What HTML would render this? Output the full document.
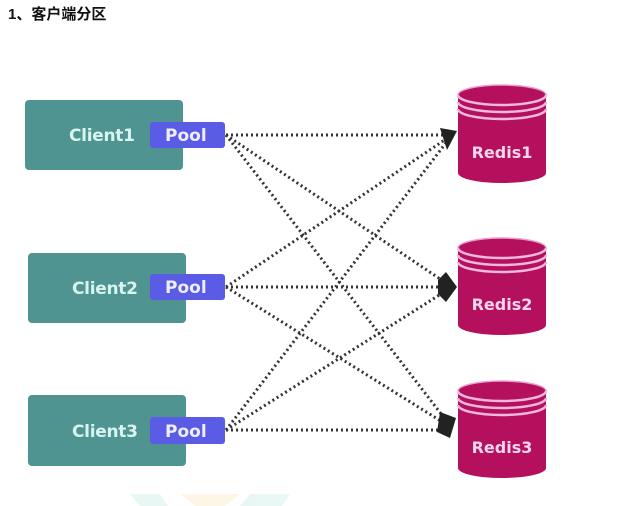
<!DOCTYPE html>
<html><head><meta charset="utf-8"><style>
body{margin:0;background:#fff;width:627px;height:506px;overflow:hidden;}
</style></head><body>
<svg width="627" height="506" xmlns="http://www.w3.org/2000/svg" style="position:absolute;left:0;top:0">
<text x="8" y="19" font-family="Liberation Sans, Noto Sans CJK SC, sans-serif" font-size="15" font-weight="bold" fill="#111">1、客户端分区</text>
<g stroke="#333" stroke-width="3" stroke-dasharray="2,3" fill="none">
<line x1="226" y1="135" x2="452" y2="135"/>
<line x1="226" y1="135" x2="452" y2="287"/>
<line x1="226" y1="135" x2="452" y2="428"/>
<line x1="226" y1="287" x2="452" y2="135"/>
<line x1="226" y1="287" x2="452" y2="287"/>
<line x1="226" y1="287" x2="452" y2="428"/>
<line x1="226" y1="430" x2="452" y2="135"/>
<line x1="226" y1="430" x2="452" y2="287"/>
<line x1="226" y1="430" x2="452" y2="430"/>
</g>
<g fill="#222">
<polygon points="440,128 457,131 447,150"/>
<polygon points="438,280 446,272 457,287 446,302 438,294"/>
<polygon points="440,412 456,418 450,438 437,432"/>
</g>
<g font-family="DejaVu Sans, Liberation Sans, sans-serif" font-weight="bold" font-size="17">
<rect x="25" y="100" width="158" height="70" rx="4" fill="#4f9490"/>
<text x="69" y="141" fill="#d8f4f0" letter-spacing="-0.3">Client1</text>
<rect x="150" y="122" width="75" height="26" rx="3" fill="#5a5ce6"/>
<text x="165" y="141" fill="#eef">Pool</text>
<rect x="28" y="253" width="158" height="70" rx="4" fill="#4f9490"/>
<text x="72" y="294" fill="#d8f4f0" letter-spacing="-0.3">Client2</text>
<rect x="150" y="274" width="75" height="26" rx="3" fill="#5a5ce6"/>
<text x="165" y="293" fill="#eef">Pool</text>
<rect x="28" y="395" width="158" height="71" rx="4" fill="#4f9490"/>
<text x="72" y="437" fill="#d8f4f0" letter-spacing="-0.3">Client3</text>
<rect x="150" y="417" width="75" height="27" rx="3" fill="#5a5ce6"/>
<text x="165" y="437" fill="#eef">Pool</text>
</g>
<g font-family="DejaVu Sans, Liberation Sans, sans-serif" font-weight="bold" font-size="16">
<g transform="translate(458,85)">
<path d="M0,10 A44,10 0 0 1 88,10 L88,88 A44,10 0 0 1 0,88 Z" fill="#b5105e"/>
<ellipse cx="44" cy="10" rx="44" ry="10" fill="#b5105e" stroke="#e8a0d0" stroke-width="1.5"/>
<path d="M0,10 A44,10 0 0 0 88,10 M0,17 A44,10 0 0 0 88,17 M0,24 A44,10 0 0 0 88,24" stroke="#f0b8e0" stroke-width="2.5" fill="none"/>
<text x="44" y="73" text-anchor="middle" fill="#f6d6ec">Redis1</text>
</g>
<g transform="translate(458,238)">
<path d="M0,10 A44,10 0 0 1 88,10 L88,87 A44,10 0 0 1 0,87 Z" fill="#b5105e"/>
<ellipse cx="44" cy="10" rx="44" ry="10" fill="#b5105e" stroke="#e8a0d0" stroke-width="1.5"/>
<path d="M0,10 A44,10 0 0 0 88,10 M0,17 A44,10 0 0 0 88,17 M0,24 A44,10 0 0 0 88,24" stroke="#f0b8e0" stroke-width="2.5" fill="none"/>
<text x="44" y="72" text-anchor="middle" fill="#f6d6ec">Redis2</text>
</g>
<g transform="translate(458,381)">
<path d="M0,10 A44,10 0 0 1 88,10 L88,87 A44,10 0 0 1 0,87 Z" fill="#b5105e"/>
<ellipse cx="44" cy="10" rx="44" ry="10" fill="#b5105e" stroke="#e8a0d0" stroke-width="1.5"/>
<path d="M0,10 A44,10 0 0 0 88,10 M0,17 A44,10 0 0 0 88,17 M0,24 A44,10 0 0 0 88,24" stroke="#f0b8e0" stroke-width="2.5" fill="none"/>
<text x="44" y="72" text-anchor="middle" fill="#f6d6ec">Redis3</text>
</g>
</g>
<g opacity="0.1">
<polygon points="130,494 160,494 168,506 140,506" fill="#2cb8a0"/>
<polygon points="180,494 240,494 225,506 195,506" fill="#f0b020"/>
<polygon points="250,494 290,494 282,506 240,506" fill="#2cb8a0"/>
</g>
</svg>
</body></html>
